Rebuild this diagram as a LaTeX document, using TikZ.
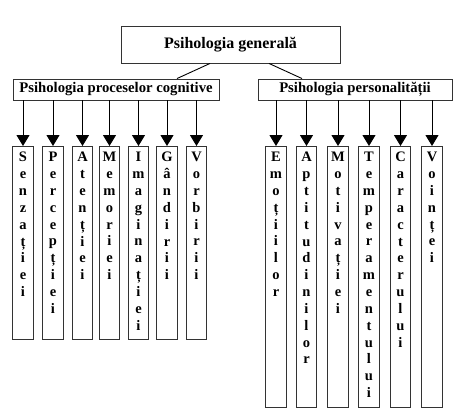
\documentclass[tikz,border=0pt]{standalone}
\usepackage{fontspec}
\setmainfont{Liberation Serif}
\usetikzlibrary{arrows.meta}
\begin{document}
\begin{tikzpicture}[x=1pt,y=-1pt,
  box/.style={draw=black!80, line width=0.9pt, inner sep=0pt, font=\fontsize{14.7}{16}\selectfont\bfseries},
  colbox/.style={draw=black!80, line width=0.9pt, inner sep=0pt, minimum width=20.5pt, anchor=north},
  coltext/.style={inner sep=0pt, anchor=north, align=center, font=\fontsize{14.5}{16.85}\selectfont\bfseries},
  arr/.style={line width=0.9pt, -{Triangle[width=13pt,length=11pt]}},
  link/.style={line width=0.9pt}]
\useasboundingbox (0,0) rectangle (467,413);
\node[box, minimum width=219pt, minimum height=37pt, font=\fontsize{16}{19}\selectfont\bfseries] (top) at (230.5,44.5) {Psihologia generală};
\node[box, minimum width=206pt, minimum height=21pt] (L) at (116,89.5) {Psihologia proceselor cognitive};
\node[box, minimum width=194pt, minimum height=21pt] (R) at (355,89.5) {Psihologia personalității};
\draw[link] ([xshift=-20.5pt]top.south) -- ([xshift=61pt]L.north);
\draw[link] ([xshift=38.5pt]top.south) -- ([xshift=-53pt]R.north);
\foreach \n/\x/\t in {
  a/23/{S\\e\\n\\z\\a\\ț\\i\\e\\i},
  b/53/{P\\e\\r\\c\\e\\p\\ț\\i\\e\\i},
  c/82.5/{A\\t\\e\\n\\ț\\i\\e\\i},
  d/109.5/{M\\e\\m\\o\\r\\i\\e\\i},
  e/138.5/{I\\m\\a\\g\\i\\n\\a\\ț\\i\\e\\i},
  f/167/{G\\â\\n\\d\\i\\r\\i\\i},
  g/196.5/{V\\o\\r\\b\\i\\r\\i\\i}}{
  \node[colbox, minimum height=193pt] (c\n) at (\x,146) {};
  \node[coltext] (t\n) at (\x,152) {\t};
  \draw[arr] (L.south -| c\n.north) -- (c\n.north);
}
\foreach \n/\x/\t in {
  h/276/{E\\m\\o\\ț\\i\\i\\l\\o\\r},
  i/306.5/{A\\p\\t\\i\\t\\u\\d\\i\\n\\i\\l\\o\\r},
  j/338/{M\\o\\t\\i\\v\\a\\ț\\i\\e\\i},
  k/369/{T\\e\\m\\p\\e\\r\\a\\m\\e\\n\\t\\u\\l\\u\\i},
  l/400.5/{C\\a\\r\\a\\c\\t\\e\\r\\u\\l\\u\\i},
  m/432/{V\\o\\i\\n\\ț\\e\\i}}{
  \node[colbox, minimum height=261pt] (c\n) at (\x,146) {};
  \node[coltext] (t\n) at (\x,152) {\t};
  \draw[arr] (R.south -| c\n.north) -- (c\n.north);
}
\end{tikzpicture}
\end{document}
